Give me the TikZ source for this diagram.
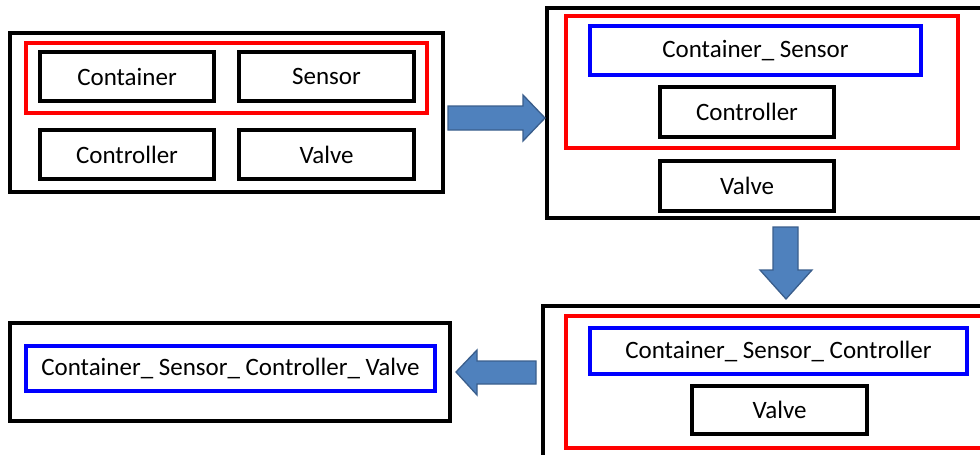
\documentclass[tikz,border=0pt]{standalone}
\usepackage{fontspec}
\setmainfont{Carlito}
\definecolor{arrfill}{RGB}{79,129,189}
\definecolor{arrdraw}{RGB}{58,94,140}
\definecolor{redbox}{RGB}{255,0,0}
\definecolor{bluebox}{RGB}{0,0,255}
\begin{document}
\begin{tikzpicture}[x=1pt,y=-1pt,
  box/.style={draw=black,line width=3.2pt,inner sep=0pt,outer sep=0pt,anchor=north west,font=\fontsize{25}{29}\selectfont},
  outerbox/.style={box},
  redgroup/.style={box,draw=redbox},
  bluebox/.style={box,draw=bluebox},
  blockarrow/.style={fill=arrfill,draw=arrdraw,line width=1.3pt,line join=miter}]
\useasboundingbox (0,0) rectangle (980,455);
\clip (0,0) rectangle (980,455);
% stage 1
\node[outerbox,minimum width=433pt,minimum height=159pt] (o1) at (10,33) {};
\node[redgroup,minimum width=401pt,minimum height=70pt] (r1) at (26,43) {};
\node[box,minimum width=174pt,minimum height=49pt] (cont1) at (40,52) {Container};
\node[box,minimum width=175pt,minimum height=49pt] (sens1) at (239,52) {Sensor};
\node[box,minimum width=174pt,minimum height=49pt] (ctrl1) at (40,130) {Controller};
\node[box,minimum width=175pt,minimum height=49pt] (valv1) at (239,130) {Valve};
% stage 2
\node[outerbox,minimum width=460pt,minimum height=210pt] (o2) at (547,8) {};
\node[redgroup,minimum width=392pt,minimum height=132pt] (r2) at (566,16) {};
\node[bluebox,minimum width=331pt,minimum height=49pt] (cs2) at (590,26) {Container\_ Sensor};
\node[box,minimum width=174pt,minimum height=50pt] (ctrl2) at (660,87) {Controller};
\node[box,minimum width=174pt,minimum height=50pt] (valv2) at (660,161) {Valve};
% stage 3
\node[outerbox,minimum width=460pt,minimum height=170pt] (o3) at (543,306) {};
\node[redgroup,minimum width=440pt,minimum height=132pt] (r3) at (566,316) {};
\node[bluebox,minimum width=377pt,minimum height=46pt] (csc3) at (590,328) {Container\_ Sensor\_ Controller};
\node[box,minimum width=175pt,minimum height=48pt] (valv3) at (692,386) {Valve};
% stage 4
\node[outerbox,minimum width=440pt,minimum height=98pt] (o4) at (10,323) {};
\node[bluebox,minimum width=409pt,minimum height=45pt] (cscv4) at (26,346) {Container\_ Sensor\_ Controller\_ Valve};
% block arrows
\draw[blockarrow] (448,106) -- (523,106) -- (523,95) -- (545,118) -- (523,141) -- (523,130) -- (448,130) -- cycle;
\draw[blockarrow] (773,227) -- (798,227) -- (798,270) -- (812,270) -- (786,299) -- (760,270) -- (773,270) -- cycle;
\draw[blockarrow] (536,361) -- (477,361) -- (477,350) -- (456,372) -- (477,395) -- (477,384) -- (536,384) -- cycle;
\end{tikzpicture}
\end{document}
